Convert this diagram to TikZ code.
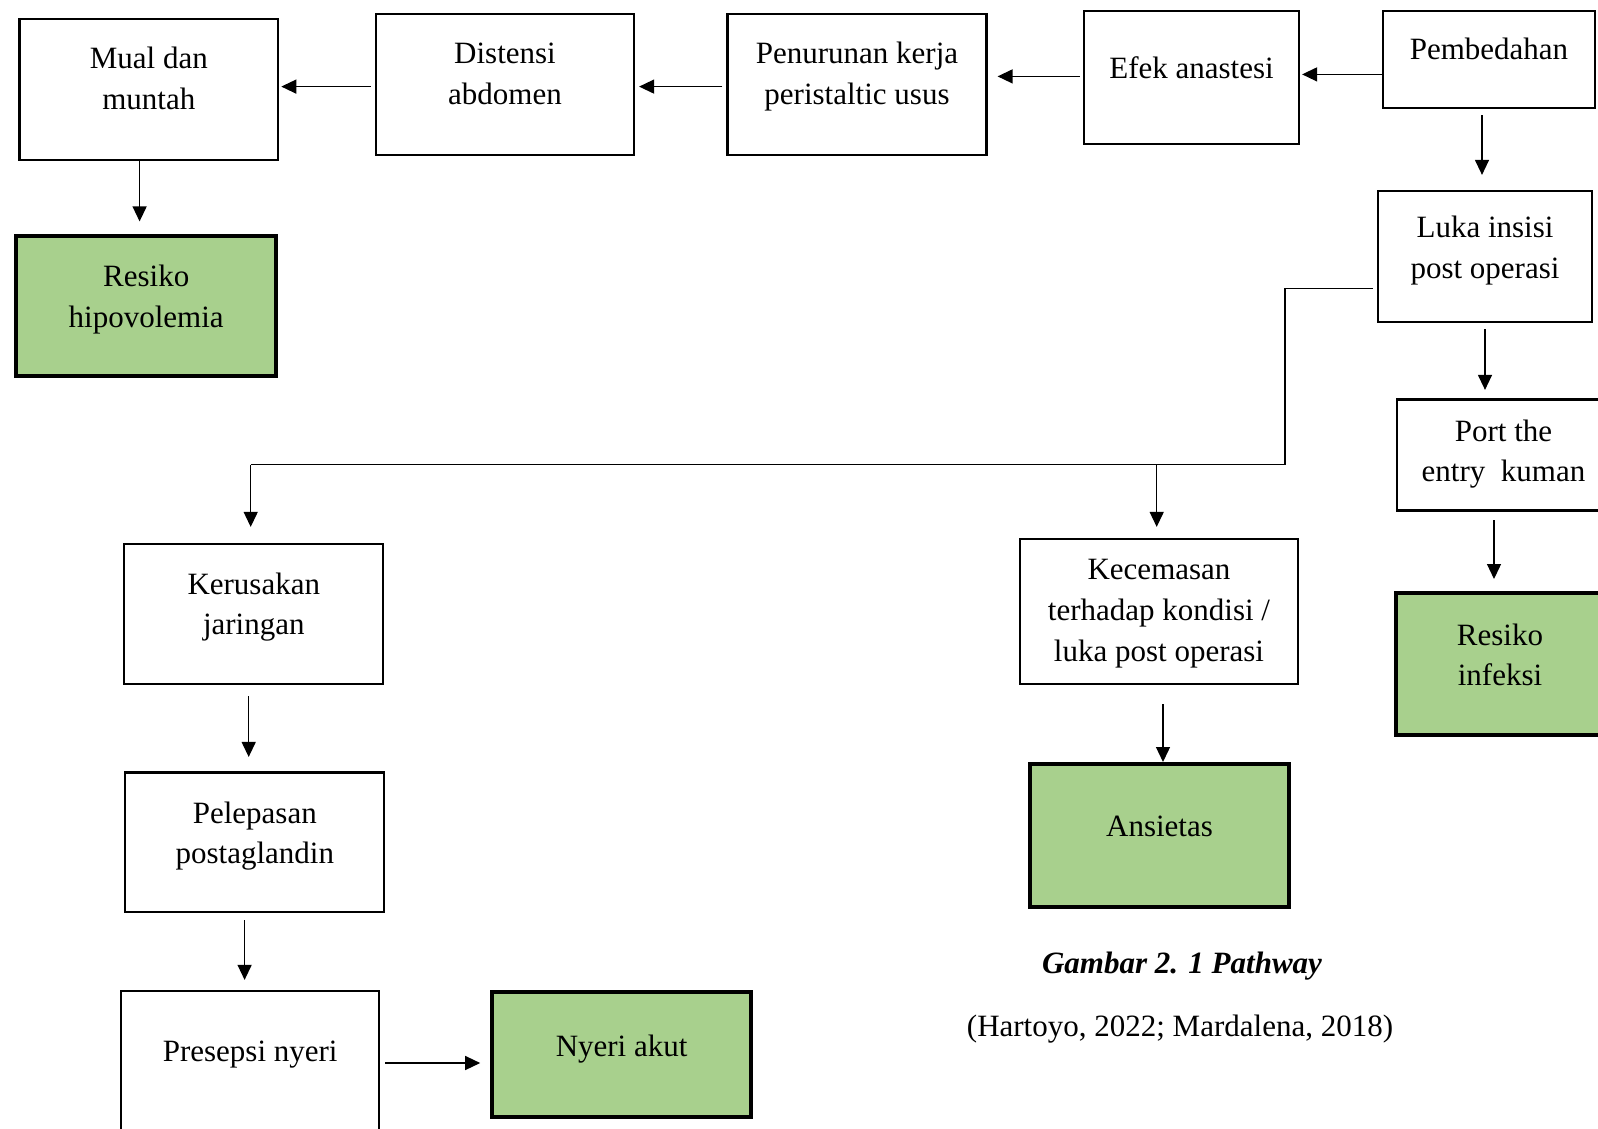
\documentclass[tikz,border=0pt]{standalone}
\usepackage{fontspec}
\setmainfont{Liberation Serif}
\usetikzlibrary{arrows.meta}
\definecolor{boxgreen}{HTML}{A8D08D}
\newcommand{\bt}[4]{\parbox[c][#2pt][t]{#1pt}{\centering\vspace*{\dimexpr #3pt-28.56pt\relax}\strut #4\par}}
\begin{document}
\begin{tikzpicture}[x=1pt,y=-1pt,
  every node/.style={font=\fontsize{31}{40.8}\selectfont},
  wbox/.style={draw, line width=2.2pt, inner sep=0pt, fill=white},
  gbox/.style={draw, line width=4pt, inner sep=0pt, fill=boxgreen},
  arr/.style={-{Triangle[length=15pt,width=14pt]}, line width=1.3pt},
  ln/.style={line width=1.3pt}]
\fill[white] (0,0) rectangle (1598,1129);
\useasboundingbox (0,0) rectangle (1598,1129);

\node[wbox] (mual) at (148.8,89.7) {\bt{258.8}{140.6}{49}{Mual dan\\muntah}};
\node[wbox] (dist) at (505,84.65) {\bt{258}{140.7}{49.7}{Distensi\\abdomen}};
\node[wbox] (pen) at (857,84.65) {\bt{259}{140.7}{49.7}{Penurunan kerja\\peristaltic usus}};
\node[wbox] (efek) at (1191.5,77.45) {\bt{215}{132.5}{67}{Efek anastesi}};
\node[wbox] (pemb) at (1489,59.6) {\bt{212}{96.8}{48.8}{Pembedahan}};
\node[wbox] (luka) at (1485,256.3) {\bt{214}{131.4}{46.6}{Luka insisi\\post operasi}};
\node[wbox] (port) at (1503.5,455) {\bt{213}{111}{41.5}{Port the\\entry\ \ kuman}};
\node[gbox] (infeksi) at (1500,664) {\bt{208}{142}{52}{Resiko\\infeksi}};
\node[gbox] (hipo) at (146.2,306.2) {\bt{259.7}{139.6}{49.9}{Resiko\\hipovolemia}};
\node[wbox] (keru) at (253.8,614) {\bt{259}{140}{50}{Kerusakan\\jaringan}};
\node[wbox] (pel) at (254.8,842.3) {\bt{259}{139.5}{50.5}{Pelepasan\\postaglandin}};
\node[wbox] (pres) at (250.2,1065.3) {\bt{257.7}{149.4}{71}{Presepsi nyeri}};
\node[gbox] (nyeri) at (621.6,1054.3) {\bt{258.8}{125.4}{65}{Nyeri akut}};
\node[wbox] (kec) at (1159,611.5) {\bt{278}{145}{40.7}{Kecemasan\\terhadap kondisi /\\luka post operasi}};
\node[gbox] (ans) at (1159.5,835.5) {\bt{259}{143}{72.5}{Ansietas}};

\node[font=\fontsize{31}{40.8}\selectfont\bfseries\itshape, anchor=base] (cap) at (1182,973) {Gambar 2. 1 Pathway};
\node[anchor=base] (src) at (1180,1036) {(Hartoyo, 2022; Mardalena, 2018)};

\coordinate (j1) at (1285,288.4);
\coordinate (j2) at (1285,464.7);
\coordinate (j3) at (250.7,464.7);
\coordinate (j4) at (1156.7,464.7);

\draw[arr, shorten <=4pt, shorten >=2pt] (dist.west |- 0,86.6) -- (mual.east |- 0,86.6);
\draw[arr, shorten <=4pt, shorten >=4pt] (pen.west |- 0,86.6) -- (dist.east |- 0,86.6);
\draw[arr, shorten <=3pt, shorten >=10pt] (efek.west |- 0,76.4) -- (pen.east |- 0,76.4);
\draw[arr, shorten >=2pt] (pemb.west |- 0,74.4) -- (efek.east |- 0,74.4);
\draw[arr, shorten <=6pt, shorten >=14.6pt] (1482,0 |- pemb.south) -- (1482,0 |- luka.north);
\draw[arr, shorten <=6pt, shorten >=8.5pt] (1485,0 |- luka.south) -- (1485,0 |- port.north);
\draw[arr, shorten <=8.4pt, shorten >=12pt] (1494,0 |- port.south) -- (1494,0 |- infeksi.north);
\draw[arr, shorten >=13pt] (139.6,0 |- mual.south) -- (139.6,0 |- hipo.north);
\draw[ln, shorten <=4pt] (luka.west |- j1) -- (j1) -- (j2) -- (j3);
\draw[arr, shorten >=16pt] (j3) -- (j3 |- keru.north);
\draw[arr, shorten >=11pt] (j4) -- (j4 |- kec.north);
\draw[arr, shorten <=11pt, shorten >=14.5pt] (248.7,0 |- keru.south) -- (248.7,0 |- pel.north);
\draw[arr, shorten <=7pt, shorten >=9.6pt] (244.6,0 |- pel.south) -- (244.6,0 |- pres.north);
\draw[arr, shorten <=5pt, shorten >=10pt] (pres.east |- 0,1063) -- (nyeri.west |- 0,1063);
\draw[arr, shorten <=19pt] (1163,0 |- kec.south) -- (1163,0 |- ans.north);
\end{tikzpicture}
\end{document}
